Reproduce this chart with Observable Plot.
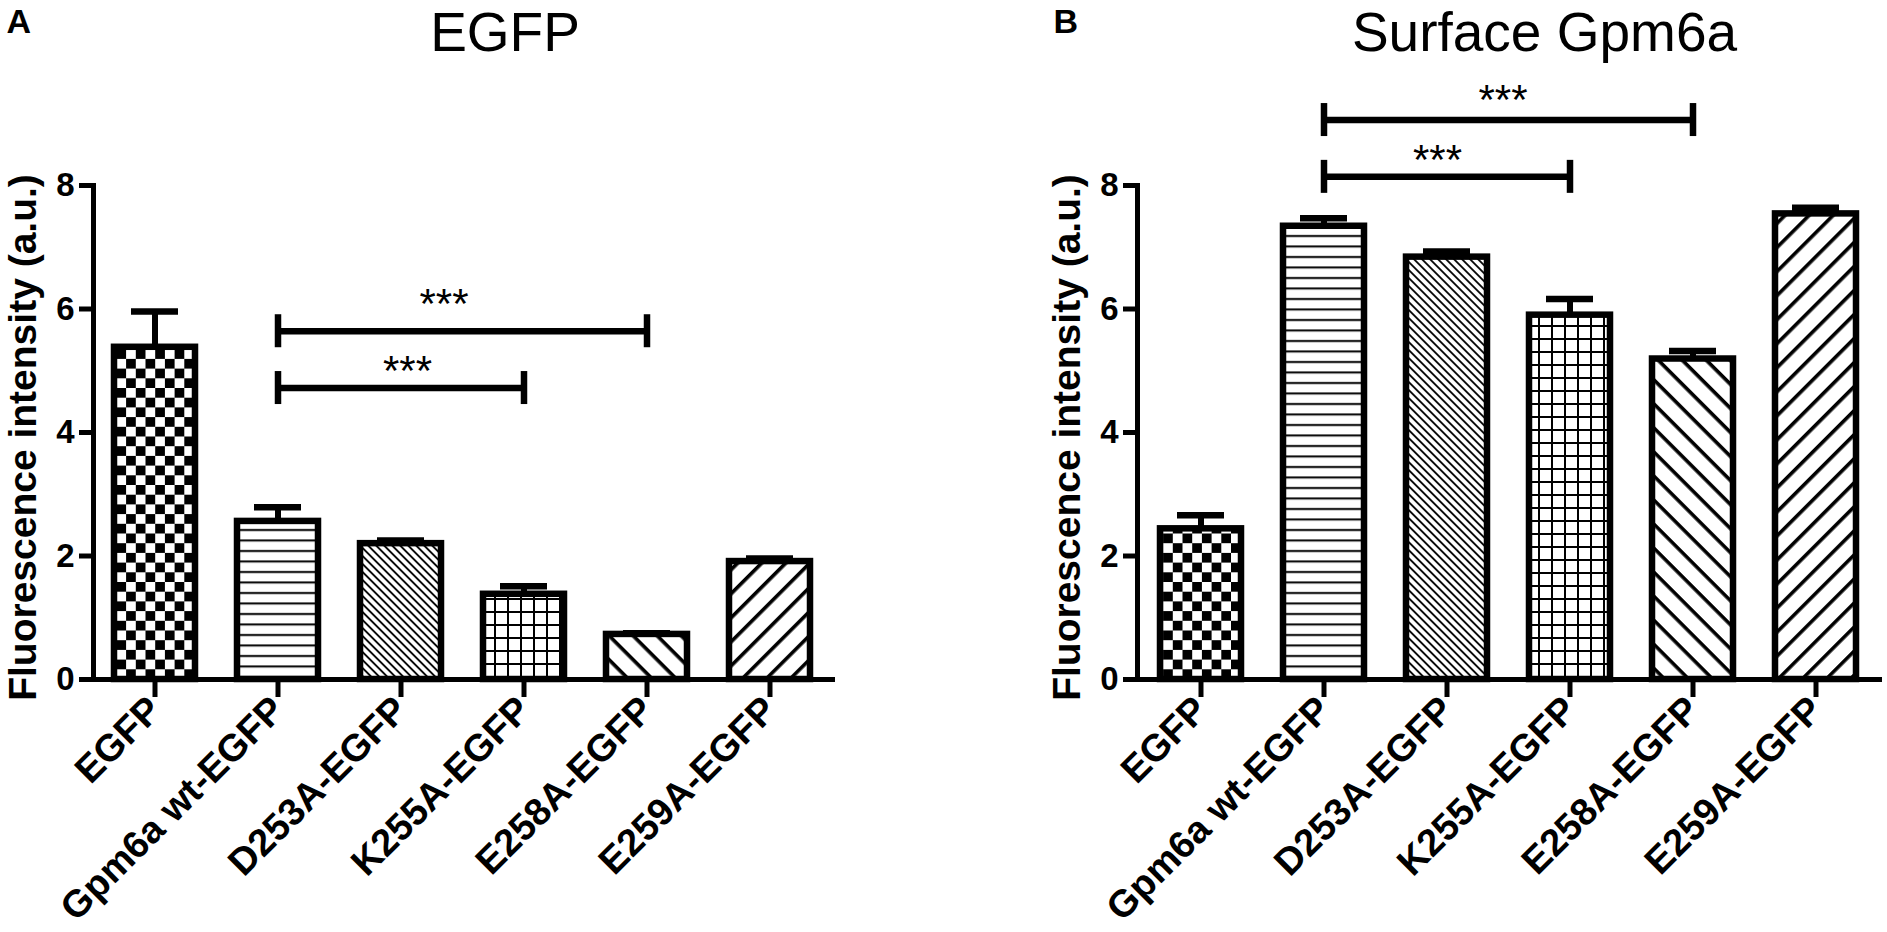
<!DOCTYPE html>
<html>
<head>
<meta charset="utf-8">
<script src="https://cdn.jsdelivr.net/npm/d3@7"></script>
<script src="https://cdn.jsdelivr.net/npm/@observablehq/plot@0.6"></script>
<style>
  html, body { margin: 0; padding: 0; background: #fff; }
  #wrap { position: relative; width: 1887px; height: 932px; overflow: hidden; background: #fff; }
  #wrap > svg { position: absolute; top: 0; max-width: none; }
</style>
</head>
<body>
<div id="wrap"></div>
<script>
// ---------- data ----------
const categories = ["EGFP", "Gpm6a wt-EGFP", "D253A-EGFP", "K255A-EGFP", "E258A-EGFP", "E259A-EGFP"];
const patterns = ["checker", "hlines", "diagDense", "grid", "diagWide", "antiDiagWide"];

const egfpMeans = [5.38, 2.56, 2.20, 1.38, 0.73, 1.91];
const egfpSem   = [0.58, 0.23, 0.05, 0.13, 0.02, 0.05];

const surfaceMeans = [2.44, 7.34, 6.84, 5.90, 5.19, 7.54];
const surfaceSem   = [0.22, 0.13, 0.09, 0.26, 0.13, 0.10];

const yTicks = [0, 2, 4, 6, 8];
const yTitle = "Fluorescence intensity (a.u.)";

const egfpBrackets = [
  {from: "Gpm6a wt-EGFP", to: "E258A-EGFP", y: 5.64, labelY: 6.23, label: "***"},
  {from: "Gpm6a wt-EGFP", to: "K255A-EGFP", y: 4.72, labelY: 5.15, label: "***"}
];
const surfaceBrackets = [
  {from: "Gpm6a wt-EGFP", to: "E258A-EGFP", y: 9.06, labelY: 9.54, label: "***"},
  {from: "Gpm6a wt-EGFP", to: "K255A-EGFP", y: 8.14, labelY: 8.57, label: "***"}
];

// ---------- styling constants (pixels) ----------
const H = 932, MT = 185, MB = 253;
const FONT = "'Liberation Sans', Arial, Helvetica, sans-serif";
const starNudgeA = [-18, 7];
const starNudgeB = [-5, -9];

function patternDefs(prefix) {
  return () => {
    const defs = d3.create("svg:defs");
    const pat = (name, w, h, rot) => {
      const p = defs.append("pattern").attr("id", prefix + name)
        .attr("patternUnits", "userSpaceOnUse").attr("width", w).attr("height", h);
      if (rot) p.attr("patternTransform", `rotate(${rot})`);
      p.append("rect").attr("width", w).attr("height", h).attr("fill", "white");
      return p;
    };
    let p = pat("checker", 19.4, 19.4);
    p.append("rect").attr("width", 9.7).attr("height", 9.7).attr("fill", "black");
    p.append("rect").attr("x", 9.7).attr("y", 9.7).attr("width", 9.7).attr("height", 9.7).attr("fill", "black");
    p = pat("hlines", 20, 10.5);
    p.append("rect").attr("y", 4).attr("width", 20).attr("height", 2).attr("fill", "black");
    p = pat("diagDense", 20, 5.66, 45);
    p.append("rect").attr("width", 20).attr("height", 1.8).attr("fill", "black");
    p = pat("grid", 13, 13);
    p.append("rect").attr("width", 2).attr("height", 13).attr("fill", "black");
    p.append("rect").attr("width", 13).attr("height", 2).attr("fill", "black");
    p = pat("diagWide", 30, 17, 45);
    p.append("rect").attr("width", 30).attr("height", 3.6).attr("fill", "black");
    p = pat("antiDiagWide", 30, 17, -45);
    p.append("rect").attr("width", 30).attr("height", 3.6).attr("fill", "black");
    return defs.node();
  };
}

function panel({means, sems, brackets, nudges, title, letter, prefix, width, marginLeft, marginRight, titleDx, letterDx, left}) {
  const data = categories.map((c, i) => ({cat: c, mean: means[i], sem: sems[i], pattern: patterns[i]}));
  const pxPerUnit = (H - MT - MB) / 8;
  const capHalf = 16.5 / pxPerUnit;
  const svg = Plot.plot({
    width, height: H, marginLeft, marginRight, marginTop: MT, marginBottom: MB,
    style: {fontFamily: FONT, color: "black", background: "transparent", overflow: "visible"},
    x: {type: "band", domain: categories, paddingInner: 0.34, paddingOuter: 0.17, label: null},
    y: {domain: [0, 8], label: null},
    color: {type: "identity"},
    marks: [
      patternDefs(prefix),
      Plot.barY(data, {x: "cat", y: "mean", fill: d => `url(#${prefix}${d.pattern})`, stroke: "black", strokeWidth: 6.5}),
      Plot.ruleX(data, {x: "cat", y1: "mean", y2: d => d.mean + d.sem, stroke: "black", strokeWidth: 6}),
      Plot.tickY(data, {x: "cat", y: d => d.mean + d.sem, stroke: "black", strokeWidth: 6.5, insetLeft: 17, insetRight: 17}),
      Plot.frame({anchor: "left", strokeWidth: 5, stroke: "black"}),
      Plot.frame({anchor: "bottom", strokeWidth: 5, stroke: "black"}),
      Plot.axisY({ticks: yTicks, tickSize: 14, tickPadding: 5, strokeWidth: 5, fontSize: 33, fontWeight: "bold", label: null}),
      Plot.axisX({tickSize: 18, strokeWidth: 5, tickRotate: -45, tickPadding: 6, fontSize: 38, fontWeight: "bold", label: null}),
      Plot.link(brackets, {x1: "from", x2: "to", y1: "y", y2: "y", stroke: "black", strokeWidth: 6.5}),
      Plot.ruleX(brackets, {x: "from", y1: d => d.y - capHalf, y2: d => d.y + capHalf, stroke: "black", strokeWidth: 6.5}),
      Plot.ruleX(brackets, {x: "to", y1: d => d.y - capHalf, y2: d => d.y + capHalf, stroke: "black", strokeWidth: 6.5}),
      Plot.text([yTitle], {frameAnchor: "left", textAnchor: "middle", lineAnchor: "middle", rotate: -90, dx: -70, dy: 5, fontSize: 39, fontWeight: "bold", fill: "black"}),
      Plot.text([title], {frameAnchor: "top", textAnchor: "middle", lineAnchor: "middle", dx: titleDx, dy: -152, fontSize: 55, fill: "black"}),
      Plot.text([letter], {frameAnchor: "top-left", textAnchor: "start", lineAnchor: "top", dx: letterDx, dy: -177, fontSize: 34, fontWeight: "bold", fill: "black"})
    ]
  });
  // significance stars, centred between the bracket ends using the plot's own scales
  const xs = svg.scale("x"), ys = svg.scale("y");
  d3.select(svg).append("g")
    .attr("font-family", FONT).attr("font-size", 42).attr("text-anchor", "middle").attr("fill", "black")
    .selectAll("text").data(brackets).join("text")
    .attr("x", (d, i) => (xs.apply(d.from) + xs.apply(d.to)) / 2 + xs.bandwidth / 2 + nudges[i])
    .attr("y", d => ys.apply(d.labelY))
    .attr("dy", "0.575em")
    .text(d => d.label);
  svg.style.left = left + "px";
  return svg;
}

const wrap = document.getElementById("wrap");
wrap.append(panel({
  means: egfpMeans, sems: egfpSem, brackets: egfpBrackets, nudges: starNudgeA, title: "EGFP", letter: "A", prefix: "pa-",
  width: 940, marginLeft: 93, marginRight: 108, titleDx: 42, letterDx: -87, left: 0
}));
wrap.append(panel({
  means: surfaceMeans, sems: surfaceSem, brackets: surfaceBrackets, nudges: starNudgeB, title: "Surface Gpm6a", letter: "B", prefix: "pb-",
  width: 947, marginLeft: 197, marginRight: 8, titleDx: 36, letterDx: -84, left: 940
}));
</script>
</body>
</html>
